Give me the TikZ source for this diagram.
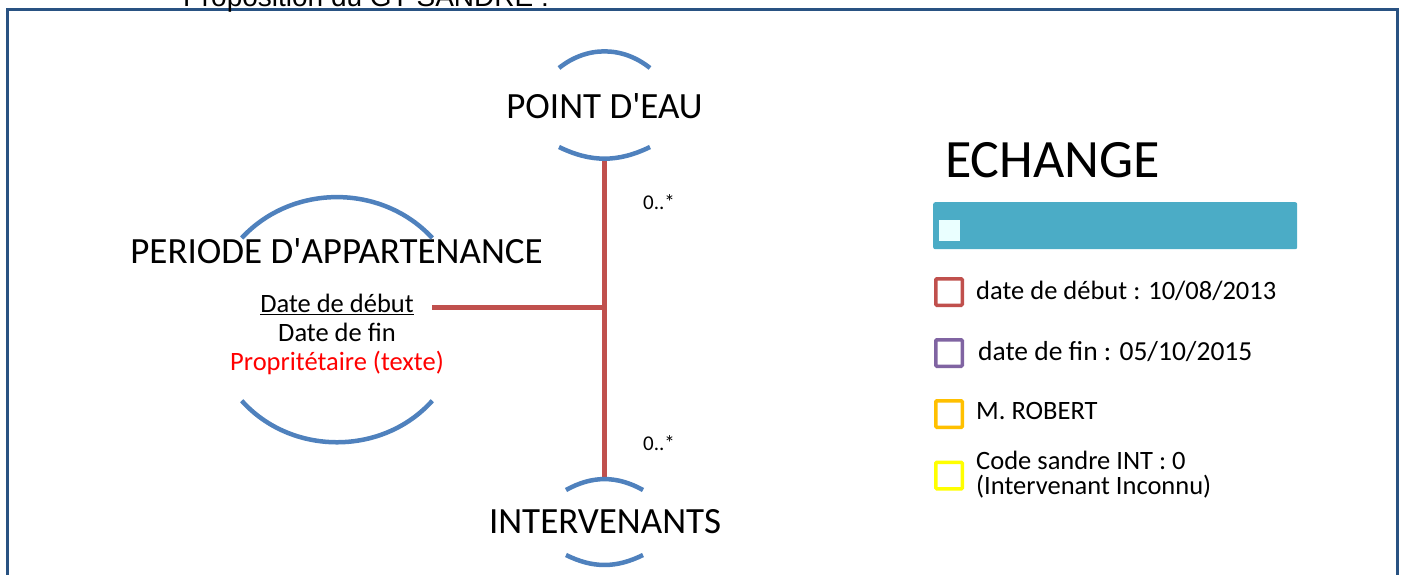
\documentclass[tikz,border=0pt]{standalone}
\usepackage{fontspec}
\setmainfont{Carlito}[Ligatures=TeXOff]
\newfontfamily\arialf{Liberation Sans}
\definecolor{frameblue}{RGB}{41,82,130}
\definecolor{arcblue}{RGB}{79,129,189}
\definecolor{relred}{RGB}{192,80,77}
\definecolor{barteal}{RGB}{75,172,198}
\definecolor{lightcyan}{RGB}{234,255,255}
\definecolor{lpurple}{RGB}{128,100,162}
\definecolor{lorange}{RGB}{255,192,0}
\definecolor{lyellow}{RGB}{255,255,0}
\tikzset{
  ent/.style={inner sep=0pt, font=\fontsize{37}{40}\selectfont, anchor=base},
  arcs/.style={arcblue, line width=4.5pt},
  rel/.style={relred, line width=5pt},
  mult/.style={font=\fontsize{21}{24}\selectfont, inner sep=0pt, anchor=base west},
  attr/.style={font=\fontsize{26.5}{29}\selectfont, inner sep=0pt, anchor=base},
  legbox/.style={line width=3.5pt, rounded corners=1pt, fill=white, minimum size=26.5pt, inner sep=0pt},
  legtext/.style={inner sep=0pt, anchor=base west, font=\fontsize{26.5}{29}\selectfont}
}
\begin{document}
\begin{tikzpicture}[x=1pt,y=-1pt]
\useasboundingbox (0,0) rectangle (1407,574);
\clip (0,0) rectangle (1407,574);
% frame
\draw[frameblue, line width=3pt] (7.5,9) rectangle (1397.5,620);
\node[anchor=base west, inner sep=0pt, font=\arialf\fontsize{28}{30}\selectfont] (cap) at (183,6) {Proposition du GT SANDRE :};
% entities
\node[ent] (pe) at (604.5,118.3) {POINT D'EAU};
\node[ent] (pa) at (336.5,263.3) {PERIODE D'APPARTENANCE};
\node[ent] (int) at (605,533.3) {INTERVENANTS};
% attributes
\node[attr] (d1) at (337,312.7) {\underline{Date de début}};
\node[attr] (d2) at (337,341.7) {Date de fin};
\node[attr, text=red] (d3) at (337,370.7) {Propritétaire (texte)};
% connectors
\coordinate (peb) at (604,161);
\coordinate (intt) at (604,479);
\coordinate (j) at (604,307.7);
\coordinate (hs) at (432,307.7);
\draw[rel] (peb) -- (intt);
\draw[rel] (hs) -- (j);
% arcs
\draw[arcs] (559,68) to[bend left=38.7] (650,68);
\draw[arcs] (559,147) to[bend right=26] (650,147);
\draw[arcs] (566,490) to[bend left=29] (643,490);
\draw[arcs] (566,555) to[bend right=26.3] (643,555);
\draw[arcs] (241.7,238) to[bend left=47.2] (432.3,238);
\draw[arcs] (241.7,400.7) to[bend right=48.2] (432.3,400.7);
% multiplicities
\node[mult] (m1) at (643,209) {0..*};
\node[mult] (m2) at (643,450.7) {0..*};
% legend
\node[anchor=base west, inner sep=0pt, font=\fontsize{54}{58}\selectfont] (ech) at (945,177) {ECHANGE};
\node[fill=barteal, rounded corners=2pt, minimum width=364pt, minimum height=47pt, inner sep=0pt, anchor=north west] (bar) at (933,202) {};
\node[fill=lightcyan, minimum size=21pt, inner sep=0pt, anchor=north west] (sq) at (939,220) {};
\node[legbox, draw=relred] (b1) at (949,292) {};
\node[legbox, draw=lpurple] (b2) at (949,353) {};
\node[legbox, draw=lorange] (b3) at (949,414) {};
\node[legbox, draw=lyellow] (b4) at (949,475.5) {};
\node[legtext] (t1) at (976,299) {date de début : 10/08/2013};
\node[legtext, font=\fontsize{27.5}{30}\selectfont] (t2) at (978,360) {date de fin : 05/10/2015};
\node[legtext] (t3) at (976,419) {M. ROBERT};
\node[legtext] (t4) at (976,469) {Code sandre INT : 0};
\node[legtext] (t5) at (976,494) {(Intervenant Inconnu)};
\end{tikzpicture}
\end{document}
